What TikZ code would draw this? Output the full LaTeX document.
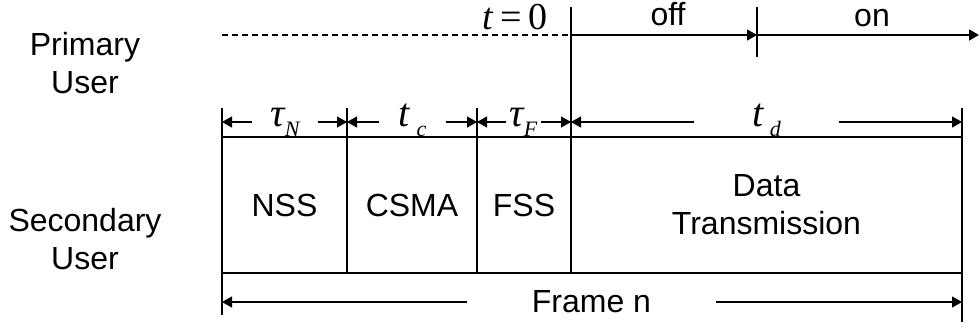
\documentclass[tikz,border=0pt]{standalone}
\usepackage{fontspec}
\setmainfont{Liberation Sans}
\newfontfamily\tms{Liberation Serif}
\usetikzlibrary{arrows.meta,positioning}
\newcommand{\lowsub}[1]{\raisebox{-5pt}{\fontsize{11}{11}\selectfont#1}}

\begin{document}
\begin{tikzpicture}[x=0.5pt,y=-0.5pt,line width=0.65pt,
    tip/.style={-{Triangle[length=5pt,width=5.5pt]}},
    txt/.style={font=\fontsize{16}{19}\selectfont,align=center},
    sym/.style={font=\fontsize{20}{22}\tms\itshape,inner sep=0pt,text height=7pt,text depth=3pt},
    cell/.style={draw,txt,minimum height=68pt,inner sep=0pt,outer sep=0pt}]
  \useasboundingbox(0,0)rectangle(980,327);
  % user labels
  \node[txt](pu)at(85,63){Primary\\User};
  \node[txt](su)at(85,239){Secondary\\User};
  % secondary user frame
  \node[cell,minimum width=62.5pt,anchor=west](nss)at(222,205){NSS};
  \node[cell,minimum width=65pt,right=0pt of nss](csma){CSMA};
  \node[cell,minimum width=47pt,right=0pt of csma](fss){FSS};
  \node[cell,minimum width=195.5pt,right=0pt of fss](data){Data\\Transmission};
  \foreach \c in {nss,csma,fss,data}
    \draw(\c.north west)--++(0,-29);
  \draw(data.north east)--++(0,-29);
  \draw(nss.south west)--++(0,42);
  \draw(data.south east)--++(0,49);
  \draw(data.north west)--++(0,-130);
  % primary user timeline
  \coordinate(t0)at(571,35);
  \coordinate(sw)at(757,35);
  \coordinate(pend)at(979,35);
  \draw[dashed,dash pattern=on 3pt off 2pt](nss.west|-t0)--(t0);
  \draw[tip](t0)--(sw);
  \draw[tip](sw)--(pend);
  \draw(757,7)--(757,57);
  \node[font=\fontsize{19}{21}\tms,anchor=base,inner sep=0pt,text height=11pt](start)at(515,29){\textit{t}\,=\,0};
  \node[txt,anchor=base,inner sep=0pt](off)at(668,25){off};
  \node[txt,anchor=base,inner sep=0pt](on)at(872,26){on};
  % durations
  \node[sym,minimum width=32pt](tN)at(285,122){τ\lowsub{N}};
  \node[sym,minimum width=32.5pt](tc)at(412.5,122){t\,\lowsub{c}};
  \node[sym,minimum width=16.5pt](tF)at(523.5,122){τ\lowsub{F}};
  \node[sym,minimum width=71.5pt](td)at(766.5,122){t\,\lowsub{d}};
  \node[txt,minimum width=123.5pt,inner sep=0pt](fr)at(591.5,302){Frame n};
  \draw[tip](tN)--(tN-|nss.west);  \draw[tip](tN)--(tN-|nss.east);
  \draw[tip](tc)--(tc-|csma.west); \draw[tip](tc)--(tc-|csma.east);
  \draw[tip](tF)--(tF-|fss.west);  \draw[tip](tF)--(tF-|fss.east);
  \draw[tip](td)--(td-|data.west); \draw[tip](td)--(td-|data.east);
  \draw[tip](fr)--(fr-|nss.west);  \draw[tip](fr)--(fr-|data.east);
\end{tikzpicture}
\end{document}
